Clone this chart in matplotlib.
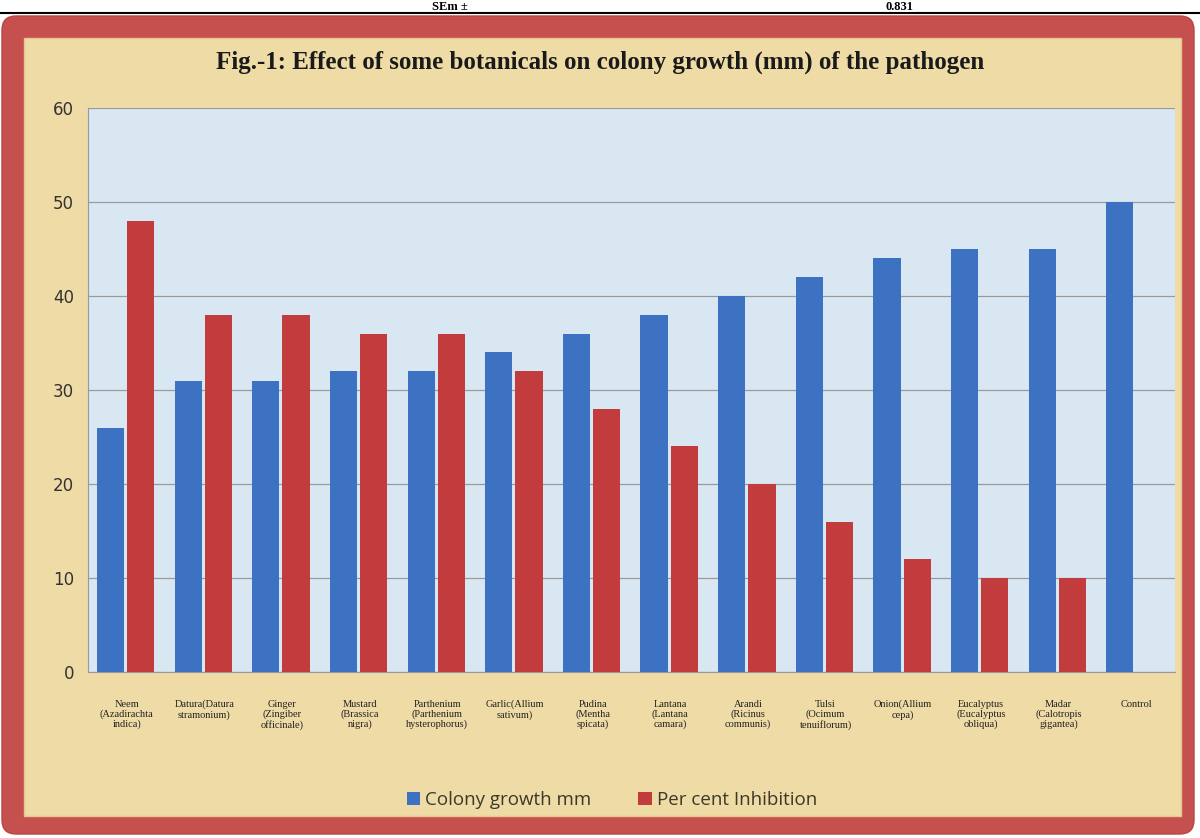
import matplotlib
matplotlib.use("Agg")
import matplotlib.pyplot as plt
from matplotlib.patches import FancyBboxPatch, Rectangle
import numpy as np

categories = ["Neem\n(Azadirachta\nindica)", "Datura(Datura\nstramonium)", "Ginger\n(Zingiber\nofficinale)",
              "Mustard\n(Brassica\nnigra)", "Parthenium\n(Parthenium\nhysterophorus)", "Garlic(Allium\nsativum)",
              "Pudina\n(Mentha\nspicata)", "Lantana\n(Lantana\ncamara)", "Arandi\n(Ricinus\ncommunis)",
              "Tulsi\n(Ocimum\ntenuiflorum)", "Onion(Allium\ncepa)", "Eucalyptus\n(Eucalyptus\nobliqua)",
              "Madar\n(Calotropis\ngigantea)", "Control"]
colony_growth = [26, 31, 31, 32, 32, 34, 36, 38, 40, 42, 44, 45, 45, 50]
inhibition = [48, 38, 38, 36, 36, 32, 28, 24, 20, 16, 12, 10, 10, None]
yticks = [0, 10, 20, 30, 40, 50, 60]

W, H = 1200, 838
fig = plt.figure(figsize=(12, 8.38), dpi=100)
fig.patch.set_facecolor("white")

# background frame
bg = fig.add_axes([0, 0, 1, 1])
bg.set_xlim(0, W); bg.set_ylim(H, 0); bg.axis("off")
bg.plot([0, W], [13, 13], color="black", lw=1.5)
bg.add_patch(FancyBboxPatch((2, 16), 1192, 818, boxstyle="round,pad=0,rounding_size=14",
                            facecolor="#c5504e", edgecolor="#b84543", lw=1))
bg.add_patch(Rectangle((24, 38), 1157, 778, facecolor="#efdba6", edgecolor="#e3c98e", lw=1))
bg.text(450, 1, "SEm ±", ha="center", va="top", fontsize=9, fontweight="bold",
        family="Liberation Serif")
bg.text(900, 1, "0.831", ha="center", va="top", fontsize=9, fontweight="bold",
        family="Liberation Serif")
bg.text(600, 62, "Fig.-1: Effect of some botanicals on colony growth (mm) of the pathogen",
        ha="center", va="center", fontsize=18, fontweight="bold", family="Liberation Serif",
        color="#1a1a1a")

ax = fig.add_axes([88 / W, 1 - 672 / H, (1175 - 88) / W, (672 - 108) / H])
ax.set_facecolor("#d9e7f3")
x = np.arange(len(categories))
bw = 0.35
ax.bar(x - 0.21, colony_growth, bw, color="#3d72c2", label="Colony growth mm", zorder=3)
inh_x = [xi + 0.18 for xi, v in zip(x, inhibition) if v is not None]
inh_v = [v for v in inhibition if v is not None]
ax.bar(inh_x, inh_v, bw, color="#c23b3d", label="Per cent Inhibition", zorder=3)
ax.set_xlim(-0.5, len(categories) - 0.5)
ax.set_ylim(0, 60)
ax.set_yticks(yticks)
ax.grid(axis="y", color="#9a9a9a", lw=0.9, zorder=1)
for s in ["top", "right"]:
    ax.spines[s].set_visible(False)
ax.spines["left"].set_color("#999999")
ax.spines["bottom"].set_color("#999999")
ax.tick_params(axis="y", length=0, pad=10, labelsize=12, labelcolor="#333333")
ax.tick_params(axis="x", length=0, pad=20)
ax.set_xticks(x)
ax.set_xticklabels(categories, fontsize=7.5, family="Liberation Serif", color="#222222",
                   linespacing=1.1)

leg = fig.legend(loc="center", bbox_to_anchor=(0.51, 1 - 800 / H), ncol=2, frameon=False,
                 handlelength=0.7, handleheight=0.7, columnspacing=2.5,
                 handletextpad=0.3, prop={"family": "Open Sans", "size": 13.5})
for t in leg.get_texts():
    t.set_color("#3a3a2a")

fig.savefig("out.png", dpi=100)
